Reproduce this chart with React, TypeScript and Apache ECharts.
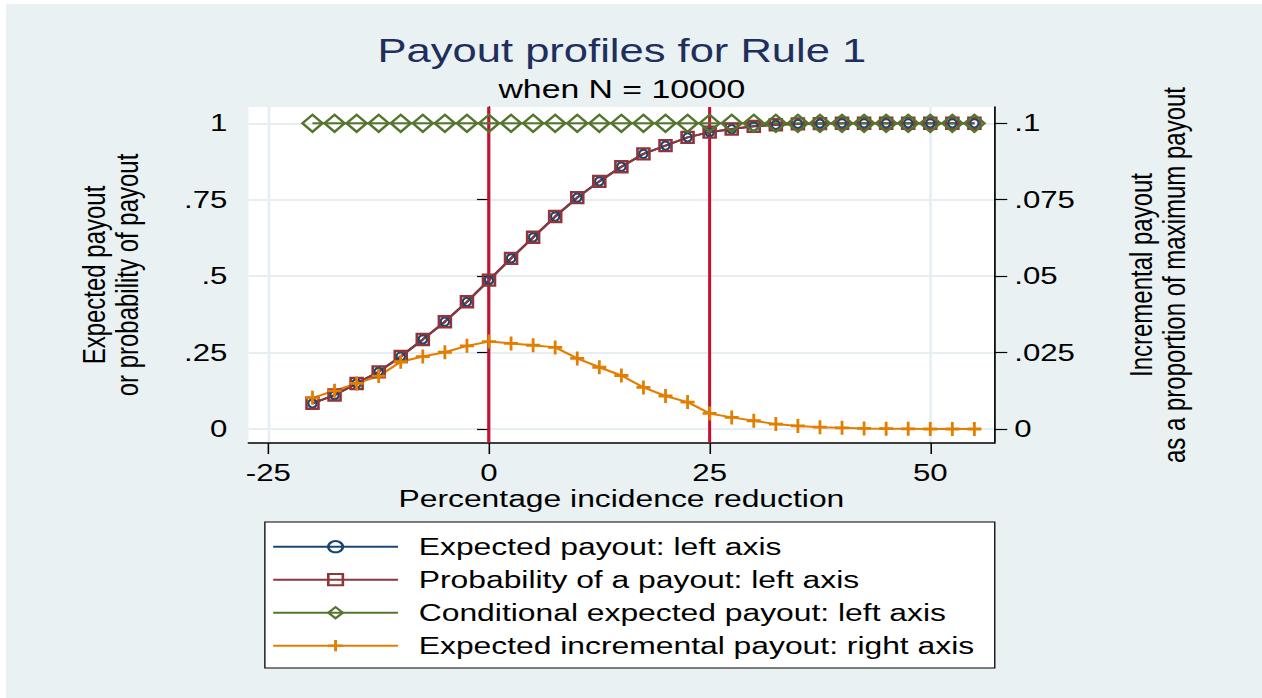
import React, { useEffect, useRef } from 'react';
import * as echarts from 'echarts';

// ---- data ----
const xValues = [-20, -17.5, -15, -12.5, -10, -7.5, -5, -2.5, 0, 2.5, 5, 7.5, 10, 12.5, 15, 17.5, 20, 22.5, 25, 27.5, 30, 32.5, 35, 37.5, 40, 42.5, 45, 47.5, 50, 52.5, 55];
const expectedPayout = [0.084, 0.111, 0.149, 0.187, 0.237, 0.293, 0.351, 0.416, 0.487, 0.558, 0.627, 0.695, 0.757, 0.81, 0.858, 0.9, 0.927, 0.954, 0.971, 0.981, 0.99, 0.995, 0.998, 0.999, 1, 1, 1, 1, 1, 1, 1];
const probabilityPayout = [0.084, 0.111, 0.149, 0.187, 0.237, 0.293, 0.351, 0.416, 0.487, 0.558, 0.627, 0.695, 0.757, 0.81, 0.858, 0.9, 0.927, 0.954, 0.971, 0.981, 0.99, 0.995, 0.998, 0.999, 1, 1, 1, 1, 1, 1, 1];
const conditionalPayout = [1, 1, 1, 1, 1, 1, 1, 1, 1, 1, 1, 1, 1, 1, 1, 1, 1, 1, 1, 1, 1, 1, 1, 1, 1, 1, 1, 1, 1, 1, 1];
const incrementalPayout = [0.0102, 0.0125, 0.0149, 0.0173, 0.022, 0.0237, 0.0251, 0.0272, 0.0286, 0.028, 0.0274, 0.0267, 0.0231, 0.0202, 0.0175, 0.0136, 0.0108, 0.0088, 0.0051, 0.0038, 0.0027, 0.0016, 0.001, 0.0006, 0.0004, 0.0002, 0.0001, 0.00005, 0, 0, 0];
const referenceLines = [0, 25];
const xTicks = [-25, 0, 25, 50];
const leftTicks = [0, 0.25, 0.5, 0.75, 1];
const rightTicks = [0, 0.025, 0.05, 0.075, 0.1];
const seriesNames = [
  'Expected payout: left axis',
  'Probability of a payout: left axis',
  'Conditional expected payout: left axis',
  'Expected incremental payout: right axis',
];
const titleText = 'Payout profiles for Rule 1';
const subtitleText = 'when N = 10000';
const xTitle = 'Percentage incidence reduction';
const leftTitle = 'Expected payout\nor probability of payout';
const rightTitle = 'Incremental payout\nas a proportion of maximum payout';

// ---- style ----
const W = 971;
const H = 698;
const SX = 1262 / W;
const FONT = '"Liberation Sans", Arial, Helvetica, sans-serif';
const BG = '#e9f1f3';
const GRIDC = '#e6eef1';
const NAVY = '#1a476f';
const MAROON = '#90353b';
const GREEN = '#55752f';
const ORANGE = '#e37e00';
const RED = '#c8102e';
const PLUS = 'path://M4,0H6V4H10V6H6V10H4V6H0V4H4Z';

const zip = (ys: number[]) => xValues.map((x, i) => [x, ys[i]]);
const fmt = (v: number) => {
  if (v === 0) return '0';
  const s = String(+v.toFixed(4));
  return s.replace(/^(-?)0\./, '$1.');
};

const axisText = { fontFamily: FONT, fontSize: 24, color: '#000' };

const option: any = {
  animation: false,
  backgroundColor: 'transparent',
  title: [
    { text: titleText, left: 478.5, top: 33.5, textAlign: 'center', padding: 0,
      textStyle: { fontFamily: FONT, fontSize: 33.5, fontWeight: 'normal', color: '#1f2f5c' } },
    { text: subtitleText, left: 478.5, top: 75.5, textAlign: 'center', padding: 0,
      textStyle: { fontFamily: FONT, fontSize: 26, fontWeight: 'normal', color: '#000' } },
  ],
  grid: { left: 191.2, right: 206, top: 107, bottom: H - 443, show: true, backgroundColor: '#fff', borderWidth: 0, outerBoundsMode: 'none', containLabel: false },
  xAxis: {
    type: 'value', min: -27.25, max: 57.25,
    name: xTitle, nameLocation: 'middle', nameGap: 42, nameTextStyle: { ...axisText, fontSize: 24.5 },
    axisLine: { show: true, onZero: false, lineStyle: { color: '#000', width: 1.5 } },
    axisTick: { show: true, length: 11, customValues: xTicks, lineStyle: { color: '#000', width: 1.2 } },
    axisLabel: { customValues: xTicks, margin: 18, formatter: fmt, ...axisText },
    splitLine: { show: true, lineStyle: { color: GRIDC, width: 2 } },
  },
  yAxis: [
    {
      type: 'value', position: 'left', min: -0.0458, max: 1.0533,
      name: leftTitle, nameLocation: 'middle', nameRotate: 90, nameGap: 80.5,
      nameTextStyle: { ...axisText, lineHeight: 25.4 },
      axisLine: { show: true, lineStyle: { color: '#000', width: 1.3 } },
      axisTick: { show: true, length: 9.2, customValues: leftTicks, lineStyle: { color: '#000', width: 1.2 } },
      axisLabel: { customValues: leftTicks, margin: 16.2, formatter: fmt, ...axisText },
      splitLine: { show: true, lineStyle: { color: GRIDC, width: 2 } },
    },
    {
      type: 'value', position: 'right', min: -0.00458, max: 0.10533,
      name: rightTitle, nameLocation: 'middle', nameRotate: 90, nameGap: 100.4,
      nameTextStyle: { ...axisText, lineHeight: 25.4 },
      axisLine: { show: true, lineStyle: { color: '#000', width: 1.3 } },
      axisTick: { show: true, length: 10, customValues: rightTicks, lineStyle: { color: '#000', width: 1.2 } },
      axisLabel: { customValues: rightTicks, margin: 15.4, formatter: fmt, ...axisText },
      splitLine: { show: false },
    },
  ],
  legend: {
    orient: 'vertical', left: 209.2, top: 533.7, padding: 0, itemGap: 7,
    itemWidth: 96, itemHeight: 14, selectedMode: false, z: 10,
    textStyle: { fontFamily: FONT, fontSize: 24.5, lineHeight: 26, color: '#000', padding: [0, 0, 0, 11] },
    data: seriesNames,
  },
  graphic: [
    { type: 'rect', z: 0, shape: { x: 203.8, y: 522, width: 561.6, height: 146 },
      style: { fill: '#fff', stroke: '#000', lineWidth: 1 } },
  ],
  series: [
    {
      name: seriesNames[0], type: 'line', data: zip(expectedPayout), yAxisIndex: 0,
      symbol: 'circle', symbolSize: [6.5, 8.5],
      itemStyle: { color: 'transparent', borderColor: NAVY, borderWidth: 2 },
      lineStyle: { color: NAVY, width: 2 },
      markLine: {
        silent: true, z: 1, symbol: ['none', 'none'], label: { show: false },
        lineStyle: { color: RED, width: 2.3, type: 'solid' },
        data: referenceLines.map((v) => ({ xAxis: v })),
      },
    },
    {
      name: seriesNames[1], type: 'line', data: zip(probabilityPayout), yAxisIndex: 0,
      symbol: 'rect', symbolSize: [9.2, 11],
      itemStyle: { color: 'transparent', borderColor: MAROON, borderWidth: 2.2 },
      lineStyle: { color: MAROON, width: 2 },
    },
    {
      name: seriesNames[2], type: 'line', data: zip(conditionalPayout), yAxisIndex: 0,
      symbol: 'diamond', symbolSize: [15.4, 17],
      itemStyle: { color: 'transparent', borderColor: GREEN, borderWidth: 2.2 },
      lineStyle: { color: GREEN, width: 2 },
    },
    {
      name: seriesNames[3], type: 'line', data: zip(incrementalPayout), yAxisIndex: 1,
      symbol: PLUS, symbolSize: [10.8, 14],
      itemStyle: { color: ORANGE, borderWidth: 0 },
      lineStyle: { color: ORANGE, width: 2 },
    },
  ],
};

export default function App() {
  const ref = useRef<HTMLDivElement>(null);
  useEffect(() => {
    const chart = echarts.init(ref.current!, null, { renderer: 'svg' });
    chart.setOption(option);
    return () => chart.dispose();
  }, []);
  return (
    <div style={{ position: 'absolute', left: 0, top: 0, width: 1262, height: H, background: '#fff', overflow: 'hidden' }}>
      <div style={{ position: 'absolute', left: 6, top: 4, width: 1256, height: 694, background: BG }} />
      <div
        ref={ref}
        style={{ position: 'absolute', left: 0, top: 0, width: W, height: H, transform: `scaleX(${SX})`, transformOrigin: '0 0' }}
      />
    </div>
  );
}
